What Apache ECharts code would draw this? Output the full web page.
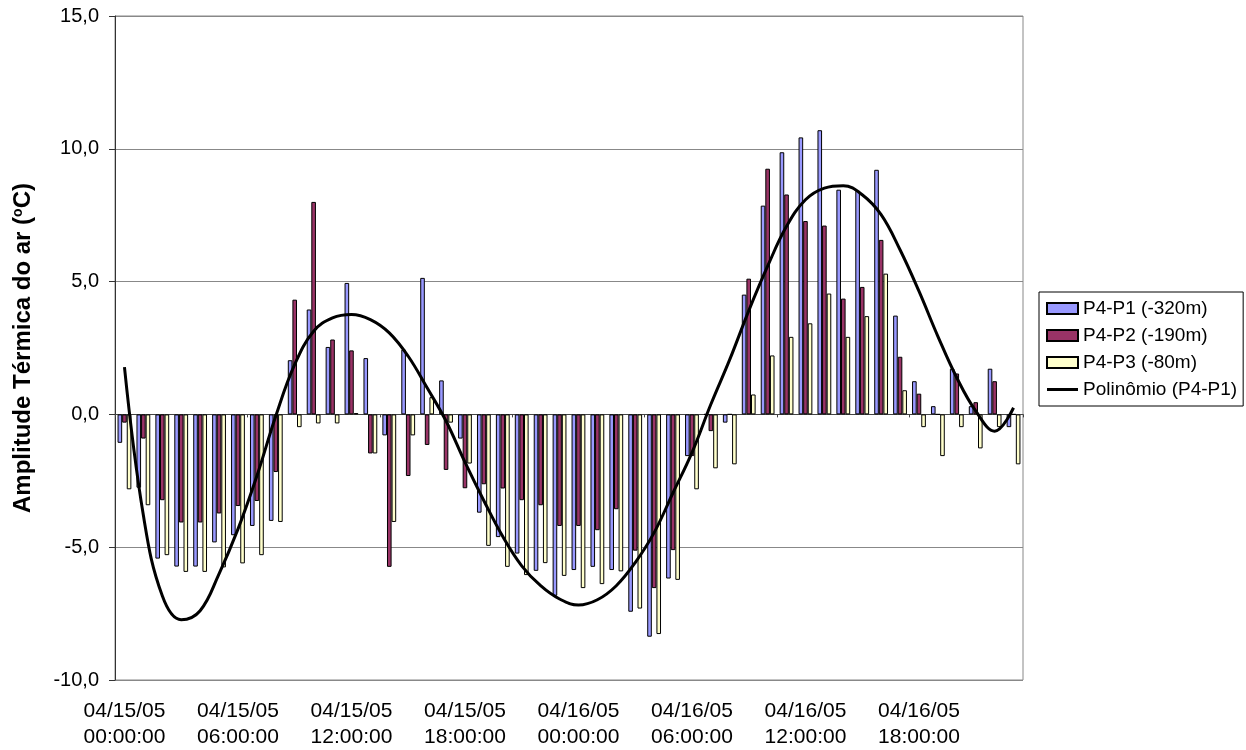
<!DOCTYPE html>
<html>
<head>
<meta charset="utf-8">
<title>Amplitude Térmica do ar</title>
<script src="https://cdn.jsdelivr.net/npm/echarts@6/dist/echarts.min.js"></script>
<style>
    html, body { margin: 0; padding: 0; background: #fff; }
    #chart { width: 1246px; height: 750px; }
</style>
</head>
<body>
<div id="chart"></div>
<script>
    // hourly readings, 04/15/05 00:00 -> 04/16/05 23:00
    const categories = [
        '04/15/05 00:00:00', '04/15/05 01:00:00', '04/15/05 02:00:00', '04/15/05 03:00:00',
        '04/15/05 04:00:00', '04/15/05 05:00:00', '04/15/05 06:00:00', '04/15/05 07:00:00',
        '04/15/05 08:00:00', '04/15/05 09:00:00', '04/15/05 10:00:00', '04/15/05 11:00:00',
        '04/15/05 12:00:00', '04/15/05 13:00:00', '04/15/05 14:00:00', '04/15/05 15:00:00',
        '04/15/05 16:00:00', '04/15/05 17:00:00', '04/15/05 18:00:00', '04/15/05 19:00:00',
        '04/15/05 20:00:00', '04/15/05 21:00:00', '04/15/05 22:00:00', '04/15/05 23:00:00',
        '04/16/05 00:00:00', '04/16/05 01:00:00', '04/16/05 02:00:00', '04/16/05 03:00:00',
        '04/16/05 04:00:00', '04/16/05 05:00:00', '04/16/05 06:00:00', '04/16/05 07:00:00',
        '04/16/05 08:00:00', '04/16/05 09:00:00', '04/16/05 10:00:00', '04/16/05 11:00:00',
        '04/16/05 12:00:00', '04/16/05 13:00:00', '04/16/05 14:00:00', '04/16/05 15:00:00',
        '04/16/05 16:00:00', '04/16/05 17:00:00', '04/16/05 18:00:00', '04/16/05 19:00:00',
        '04/16/05 20:00:00', '04/16/05 21:00:00', '04/16/05 22:00:00', '04/16/05 23:00:00'
    ]

    const seriesNames = ['P4-P1 (-320m)', 'P4-P2 (-190m)', 'P4-P3 (-80m)', 'Polinômio (P4-P1)']

    const p4p1 = [
        -1.07, -2.76, -5.43, -5.73, -5.73, -4.82, -4.55, -4.20, -4.01, 2.04, 3.95, 2.54,
        4.95, 2.12, -0.79, 2.44, 5.14, 1.28, -0.91, -3.70, -4.62, -5.24, -5.89, -6.83,
        -5.86, -5.74, -5.86, -7.43, -8.37, -6.18, -1.57, 0, -0.31, 4.51, 7.86, 9.87,
        10.43, 10.70, 8.46, 8.42, 9.21, 3.72, 1.25, 0.31, 1.72, 0.31, 1.72, -0.48
    ]
    const p4p2 = [
        -0.31, -0.91, -3.23, -4.07, -4.07, -3.73, -3.45, -3.26, -2.17, 4.32, 8.00, 2.82,
        2.41, -1.47, -5.74, -2.32, -1.15, -2.09, -2.78, -2.63, -2.79, -3.23, -3.42, -4.20,
        -4.20, -4.36, -3.57, -5.13, -6.54, -5.11, -1.57, -0.63, 0, 5.11, 9.25, 8.28,
        7.28, 7.11, 4.36, 4.80, 6.57, 2.17, 0.78, 0, 1.54, 0.46, 1.25, 0
    ]
    const p4p3 = [
        -2.82, -3.42, -5.30, -5.93, -5.93, -5.76, -5.61, -5.30, -4.05, -0.48, -0.34, -0.34,
        0.05, -1.47, -4.05, -0.79, 0.65, -0.31, -1.85, -4.95, -5.74, -6.05, -5.60, -6.08,
        -6.54, -6.39, -5.91, -7.31, -8.27, -6.23, -2.82, -2.03, -1.88, 0.75, 2.22, 2.92,
        3.43, 4.55, 2.92, 3.70, 5.30, 0.91, -0.48, -1.57, -0.48, -1.28, -0.48, -1.88
    ]
    // polynomial trend line of P4-P1, read at each hour
    const trendP4p1 = [
        1.78, -3.80, -6.83, -7.73, -7.39, -6.00, -4.32, -2.32, -0.06, 1.88, 3.13, 3.63,
        3.76, 3.57, 3.07, 2.19, 1.00, -0.25, -1.80, -3.25, -4.60, -5.70, -6.45, -6.95,
        -7.18, -6.98, -6.45, -5.58, -4.45, -2.95, -1.44, 0.38, 2.07, 3.90, 5.58, 7.08,
        8.08, 8.52, 8.61, 8.27, 7.52, 6.20, 4.64, 2.94, 1.38, 0.13, -0.63, 0.25
    ]

    const colors = ['#9999FF', '#993366', '#FFFFCC', '#000000']
    const fontFamily = '"Liberation Sans", Arial, sans-serif'

    const chart = echarts.init(document.getElementById('chart'), null, { renderer: 'canvas' })

    function barSerie(i, values) {
        return {
            name: seriesNames[i],
            type: 'bar',
            xAxisIndex: 0,
            barGap: '0%',
            barCategoryGap: '27%',
            data: values,
            itemStyle: { color: colors[i], borderColor: '#000', borderWidth: 1 }
        }
    }

    chart.setOption({
        animation: false,
        textStyle: { fontFamily: fontFamily, color: '#000' },
        grid: {
            left: 115,
            right: 223,
            top: 16,
            bottom: 69,
            show: true,
            borderColor: '#888',
            borderWidth: 1
        },
        legend: {
            orient: 'vertical',
            left: 1039,
            top: 292,
            padding: [7, 6, 7, 7],
            itemWidth: 31,
            itemHeight: 11,
            itemGap: 8,
            symbolKeepAspect: true,
            borderColor: '#000',
            borderWidth: 1,
            textStyle: { fontSize: 19, color: '#000' },
            data: [
                { name: seriesNames[0], icon: 'rect' },
                { name: seriesNames[1], icon: 'rect' },
                { name: seriesNames[2], icon: 'rect' },
                // flat black stroke for the trend line, no marker
                { name: seriesNames[3], icon: 'path://M0,0L31,0L31,3L0,3Z', itemStyle: { color: '#000', borderWidth: 0 } }
            ]
        },
        xAxis: [
            {
                type: 'category',
                data: categories,
                position: 'bottom',
                axisLine: { onZero: false, show: false },
                axisTick: { show: false },
                axisLabel: {
                    interval: 5,
                    margin: 18,
                    fontSize: 21,
                    lineHeight: 26,
                    color: '#000',
                    formatter: function (v) { return v.replace(' ', '\n') }
                },
                splitLine: { show: false }
            },
            {
                // the category axis crossing at zero, with the hour ticks
                type: 'category',
                data: categories,
                position: 'bottom',
                axisLine: { onZero: true, lineStyle: { color: '#444', width: 1 } },
                axisTick: { show: true, length: 3, lineStyle: { color: '#444' } },
                axisLabel: { show: false },
                splitLine: { show: false }
            }
        ],
        yAxis: {
            type: 'value',
            min: -10,
            max: 15,
            interval: 5,
            name: '{t|Amplitude Térmica do ar (}{s|o}{t|C)}',
            nameLocation: 'middle',
            nameGap: 80,
            nameRotate: 90,
            nameTextStyle: {
                rich: {
                    t: { fontSize: 24, fontWeight: 'bold', fontFamily: fontFamily, color: '#000' },
                    s: { fontSize: 14, fontWeight: 'bold', fontFamily: fontFamily, color: '#000', padding: [0, 0, 10, 0] }
                }
            },
            axisLine: { show: true, lineStyle: { color: '#333' } },
            axisTick: { show: true, length: 6, lineStyle: { color: '#333' } },
            axisLabel: {
                margin: 16,
                fontSize: 20,
                color: '#000',
                formatter: function (v) { return v.toFixed(1).replace('.', ',') }
            },
            splitLine: { show: true, lineStyle: { color: '#888', width: 1 } }
        },
        series: [
            barSerie(0, p4p1),
            barSerie(1, p4p2),
            barSerie(2, p4p3),
            {
                name: seriesNames[3],
                type: 'line',
                xAxisIndex: 0,
                data: trendP4p1,
                smooth: 0.4,
                symbol: 'none',
                z: 5,
                lineStyle: { color: '#000', width: 3 },
                itemStyle: { color: '#000' }
            }
        ]
    })
</script>
</body>
</html>
